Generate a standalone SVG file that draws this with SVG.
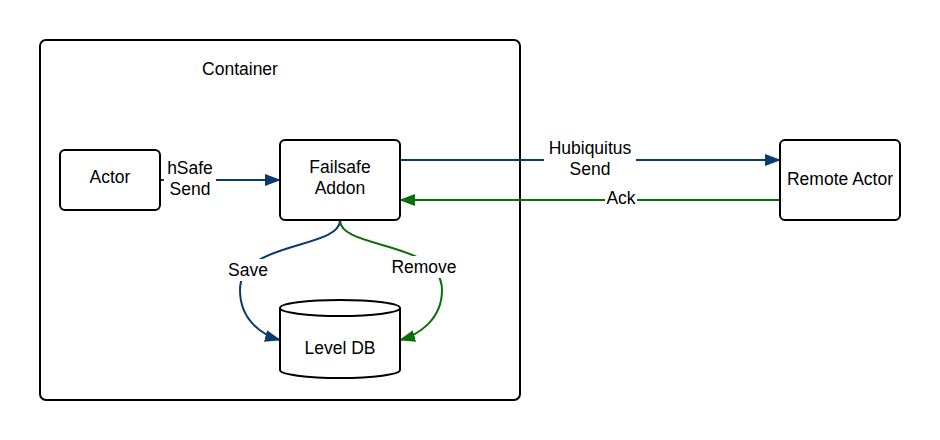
<svg xmlns="http://www.w3.org/2000/svg" width="940" height="440" viewBox="0 0 940 440">
<style>
.box{fill:#fff;stroke:#000;stroke-width:2}
.t{font-family:"Liberation Sans",Arial,sans-serif;font-size:17.5px;fill:#000;text-anchor:middle}
.blue{fill:none;stroke:#0a3a6e;stroke-width:2}
.green{fill:none;stroke:#0a6e0a;stroke-width:2}
.bg{fill:#fff}
</style>
<defs>
<marker id="ab" viewBox="0 0 16 12" refX="15" refY="6" markerWidth="16" markerHeight="12" markerUnits="userSpaceOnUse" orient="auto"><path d="M0,0 L16,6 L0,12 Z" fill="#0a3a6e"/></marker>
<marker id="ag" viewBox="0 0 16 12" refX="15" refY="6" markerWidth="16" markerHeight="12" markerUnits="userSpaceOnUse" orient="auto"><path d="M0,0 L16,6 L0,12 Z" fill="#0a6e0a"/></marker>
</defs>
<rect width="940" height="440" fill="#fff"/>
<g id="container">
<rect class="box" x="40" y="40" width="480" height="360" rx="6"/>
<text class="t" x="240" y="75">Container</text>
</g>
<g id="connectors">
<path class="blue" d="M160,180 L280,180" marker-end="url(#ab)"/>
<path class="blue" d="M400,160 L780,160" marker-end="url(#ab)"/>
<path class="green" d="M780,200 L400,200" marker-end="url(#ag)"/>
<path class="blue" d="M340,220 C340,250 240,240 240,290 C240,320 262,335 280,340" marker-end="url(#ab)"/>
<path class="green" d="M340,220 C340,250 442,240 442,290 C442,320 418,335 400,340" marker-end="url(#ag)"/>
<rect class="bg" x="164" y="156" width="52" height="44"/>
<text class="t" x="190" y="174">hSafe</text>
<text class="t" x="190" y="195">Send</text>
<rect class="bg" x="544" y="138" width="92" height="42"/>
<text class="t" x="590" y="154">Hubiquitus</text>
<text class="t" x="590" y="175">Send</text>
<rect class="bg" x="605" y="190" width="32" height="18"/>
<text class="t" x="621" y="204">Ack</text>
<rect class="bg" x="226" y="259" width="44" height="22"/>
<text class="t" x="248" y="276">Save</text>
<rect class="bg" x="390" y="256" width="68" height="22"/>
<text class="t" x="424" y="273">Remove</text>
</g>
<g id="actor">
<rect class="box" x="60" y="150" width="100" height="60" rx="5"/>
<text class="t" x="110" y="183">Actor</text>
</g>
<g id="failsafe">
<rect class="box" x="280" y="140" width="120" height="80" rx="5"/>
<text class="t" x="340" y="173">Failsafe</text>
<text class="t" x="340" y="194">Addon</text>
</g>
<g id="remote">
<rect class="box" x="780" y="140" width="120" height="80" rx="5"/>
<text class="t" x="840" y="185">Remote Actor</text>
</g>
<g id="leveldb">
<path class="box" d="M280,308 L280,370 A60,8 0 0 0 400,370 L400,308 A60,8 0 0 0 280,308 Z"/>
<path d="M280,308 A60,8 0 0 0 400,308" fill="none" stroke="#000" stroke-width="2"/>
<text class="t" x="340" y="354">Level DB</text>
</g>
</svg>
